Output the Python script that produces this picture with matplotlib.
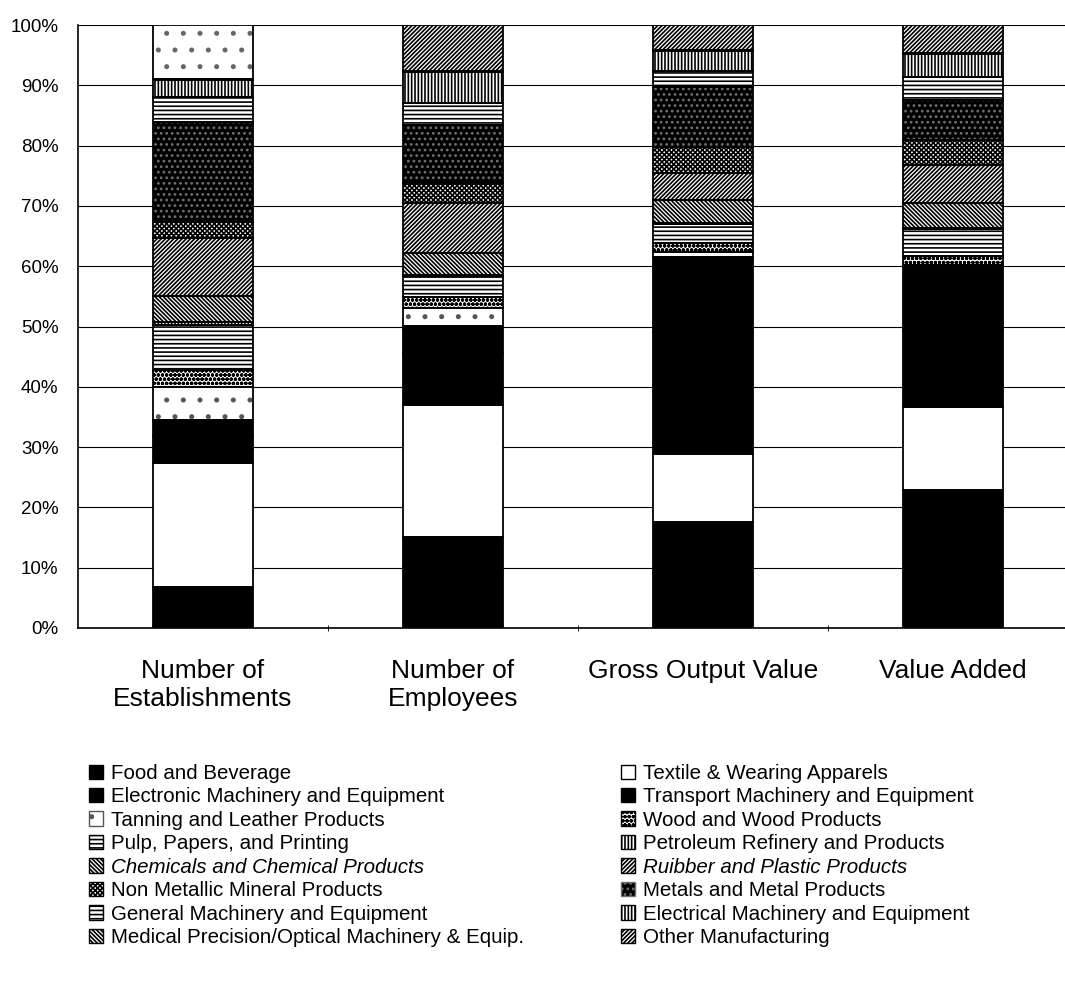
import matplotlib
matplotlib.use("Agg")
import matplotlib.pyplot as plt
from matplotlib.patches import Patch

plt.rcParams["font.family"] = ["Liberation Sans", "DejaVu Sans"]
plt.rcParams["hatch.linewidth"] = 1.2

# Share of manufacturing by industry (%)
categories = ["Number of\nEstablishments", "Number of\nEmployees",
              "Gross Output Value", "Value Added"]
industries = [
    "Food and Beverage", "Textile & Wearing Apparels",
    "Electronic Machinery and Equipment", "Transport Machinery and Equipment",
    "Tanning and Leather Products", "Wood and Wood Products",
    "Pulp, Papers, and Printing", "Petroleum Refinery and Products",
    "Chemicals and Chemical Products", "Ruibber and Plastic Products",
    "Non Metallic Mineral Products", "Metals and Metal Products",
    "General Machinery and Equipment", "Electrical Machinery and Equipment",
    "Medical Precision/Optical Machinery & Equip.", "Other Manufacturing",
]
food = [6.8, 15.1, 17.6, 22.9]
textile = [20.6, 21.9, 11.3, 13.8]
electronic = [4.4, 8.6, 20.2, 12.5]
transport = [2.7, 4.5, 12.4, 10.7]
tanning = [5.5, 3.0, 0.8, 0.3]
wood = [2.8, 1.8, 1.5, 1.5]
pulp = [7.5, 3.4, 3.2, 4.4]
petroleum = [0.4, 0.2, 0.2, 0.2]
chemicals = [4.4, 3.7, 3.8, 4.2]
rubber = [9.6, 8.3, 4.5, 6.3]
nonmetal = [2.6, 3.3, 4.3, 4.2]
metals = [16.6, 9.6, 9.9, 6.6]
general = [4.2, 3.7, 2.7, 3.8]
electrical = [2.7, 5.1, 3.3, 3.8]
medical = [0.2, 0.2, 0.2, 0.2]
other = [9.0, 7.6, 4.1, 4.6]
series = [food, textile, electronic, transport, tanning, wood, pulp, petroleum,
          chemicals, rubber, nonmetal, metals, general, electrical, medical, other]

yticks = [0, 10, 20, 30, 40, 50, 60, 70, 80, 90, 100]
ytick_labels = ["0%", "10%", "20%", "30%", "40%", "50%", "60%", "70%", "80%", "90%", "100%"]

# (face colour, hatch colour, hatch) per industry
styles = [
    ("black", "black", None),
    ("white", "black", None),
    ("black", "black", None),
    ("black", "black", None),
    ("white", "#555555", "."),
    ("white", "black", "oooo"),
    ("white", "black", "----"),
    ("white", "black", "|||||"),
    ("white", "black", "\\\\\\\\\\\\\\\\"),
    ("white", "black", "////////"),
    ("white", "black", "xxxxxxx"),
    ("black", "#707070", "..."),
    ("white", "black", "----"),
    ("white", "black", "|||||"),
    ("white", "black", "\\\\\\\\\\\\\\\\"),
    ("white", "black", "////////"),
]
italic_items = {"Chemicals and Chemical Products", "Ruibber and Plastic Products"}

fig = plt.figure(figsize=(10.65, 9.94), dpi=100)
ax = fig.add_axes([78 / 1065, 366 / 994, 987 / 1065, 603 / 994])

x = list(range(len(categories)))
width = 0.40
bottom = [0.0] * len(categories)
containers = []
for vals, (fc, hc, hatch) in zip(series, styles):
    bars = ax.bar(x, vals, width, bottom=bottom, color=fc, edgecolor=hc,
                  hatch=hatch, linewidth=0, zorder=2)
    ax.bar(x, vals, width, bottom=bottom, fill=False, edgecolor="black",
           linewidth=1.3, zorder=3)
    containers.append(bars)
    bottom = [b + v for b, v in zip(bottom, vals)]

# the top segment of the establishments column is printed almost blank
top_patch = containers[-1].patches[0]
top_patch.set_hatch(".")
top_patch.set_edgecolor("#666666")

ax.set_xlim(-0.5, 3.448)
ax.set_ylim(0, 100)
ax.set_yticks(yticks)
ax.set_yticklabels(ytick_labels, fontsize=13.5)
ax.set_xticks(x)
ax.set_xticklabels(categories, fontsize=19, linespacing=1.25)
ax.set_xticks([0.5, 1.5, 2.5], minor=True)
ax.tick_params(axis="x", which="major", length=0, pad=22)
ax.tick_params(axis="x", which="minor", length=4, direction="inout", color="black")
ax.tick_params(axis="y", length=0, pad=14)
ax.grid(axis="y", color="black", linewidth=0.8, zorder=0)
ax.set_axisbelow(True)
for side in ("top", "right"):
    ax.spines[side].set_visible(False)
ax.spines["left"].set_linewidth(1.2)
ax.spines["bottom"].set_linewidth(1.2)

handles = [Patch(facecolor=fc, edgecolor=hc if hatch else "black", hatch=hatch,
                 linewidth=1.0) for fc, hc, hatch in styles]
col_left = list(range(0, 16, 2))
col_right = list(range(1, 16, 2))
for idx, xpos in ((col_left, 89 / 1065), (col_right, 621 / 1065)):
    leg = fig.legend([handles[i] for i in idx], [industries[i] for i in idx],
                     loc="upper left", bbox_to_anchor=(xpos, 1 - 764 / 994),
                     frameon=False, fontsize=14.8, handlelength=0.7,
                     handleheight=0.7, handletextpad=0.35, labelspacing=0.215,
                     borderpad=0, borderaxespad=0)
    for t in leg.get_texts():
        if t.get_text() in italic_items:
            t.set_fontstyle("italic")

fig.savefig("out.png", dpi=100)
